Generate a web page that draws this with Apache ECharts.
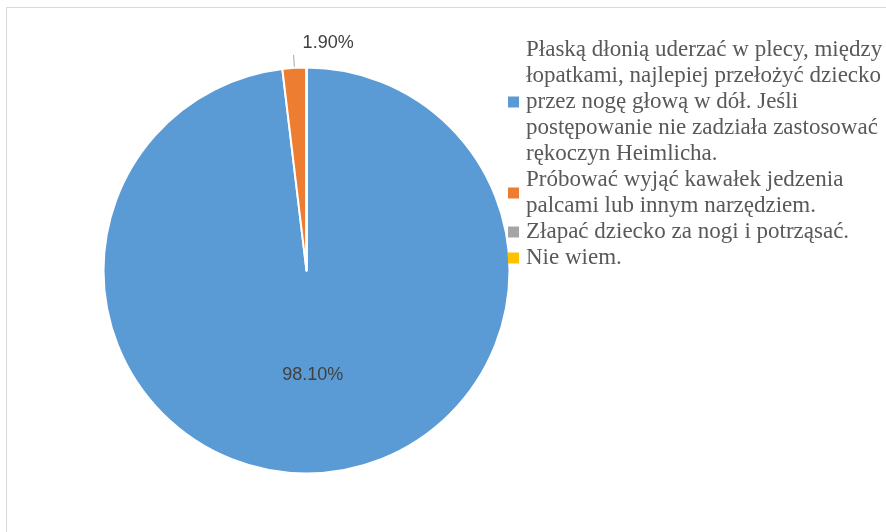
<!DOCTYPE html>
<html>
<head>
<meta charset="utf-8">
<style>
  html, body { margin: 0; padding: 0; background: #ffffff; }
  #chart { width: 886px; height: 532px; }
</style>
<script src="https://cdn.jsdelivr.net/npm/echarts@6/dist/echarts.min.js"></script>
</head>
<body>
<div id="chart"></div>
<script>
// Answer categories (line breaks as they wrap in the legend)
const categories = [
  'Płaską dłonią uderzać w plecy, między\nłopatkami, najlepiej przełożyć dziecko\nprzez nogę głową w dół. Jeśli\npostępowanie nie zadziała zastosować\nrękoczyn Heimlicha.',
  'Próbować wyjąć kawałek jedzenia\npalcami lub innym narzędziem.',
  'Złapać dziecko za nogi i potrząsać.',
  'Nie wiem.'
];
// Share of responses, percent
const shares = [98.1, 1.9, 0, 0];
// Slice colours
const sliceColors = ['#5B9BD5', '#ED7D31', '#A5A5A5', '#FFC000'];

const chart = echarts.init(document.getElementById('chart'), null, { renderer: 'canvas' });

const pieData = categories.map((name, i) => {
  const item = { name: name, value: shares[i], itemStyle: { color: sliceColors[i] } };
  if (shares[i] === 0) {
    item.label = { show: false };
    item.labelLine = { show: false };
  } else if (i === 0) {
    item.label = { position: 'inside' };
    item.labelLine = { show: false };
  } else {
    item.label = { position: 'outside' };
    item.labelLine = { show: true, length: 13, length2: 0 };
  }
  return item;
});

chart.setOption({
  animation: false,
  backgroundColor: '#ffffff',
  graphic: [{
    type: 'rect',
    silent: true,
    shape: { x: 6.5, y: 7.5, width: 1000, height: 1000 },
    style: { fill: 'none', stroke: '#d9d9d9', lineWidth: 1 }
  }],
  legend: {
    orient: 'vertical',
    left: 508,
    top: 37,
    padding: 0,
    itemWidth: 11,
    itemHeight: 11,
    itemGap: 0,
    icon: 'rect',
    selectedMode: false,
    itemStyle: { borderWidth: 0 },
    data: categories,
    textStyle: {
      fontFamily: '"Liberation Serif", "DejaVu Serif", serif',
      fontSize: 23,
      lineHeight: 26,
      color: '#595959',
      padding: [0, 0, 0, 2]
    }
  },
  series: [{
    type: 'pie',
    center: [306.5, 270.5],
    radius: 203,
    startAngle: 90,
    clockwise: true,
    avoidLabelOverlap: false,
    silent: true,
    itemStyle: { borderColor: '#ffffff', borderWidth: 2 },
    label: {
      show: true,
      fontFamily: '"Liberation Sans", Arial, sans-serif',
      fontSize: 18,
      color: '#404040',
      formatter: p => p.value.toFixed(2) + '%'
    },
    labelLine: {
      lineStyle: { color: '#a6a6a6', width: 1 }
    },
    labelLayout: function (params) {
      if (params.dataIndex === 1 && params.labelLinePoints) {
        const pts = params.labelLinePoints;
        const end = pts[pts.length - 1];
        return {
          x: end[0] + 9,
          y: end[1] - 11.5,
          align: 'left',
          verticalAlign: 'middle',
          labelLinePoints: pts
        };
      }
      return {};
    },
    data: pieData
  }]
});
</script>
</body>
</html>
